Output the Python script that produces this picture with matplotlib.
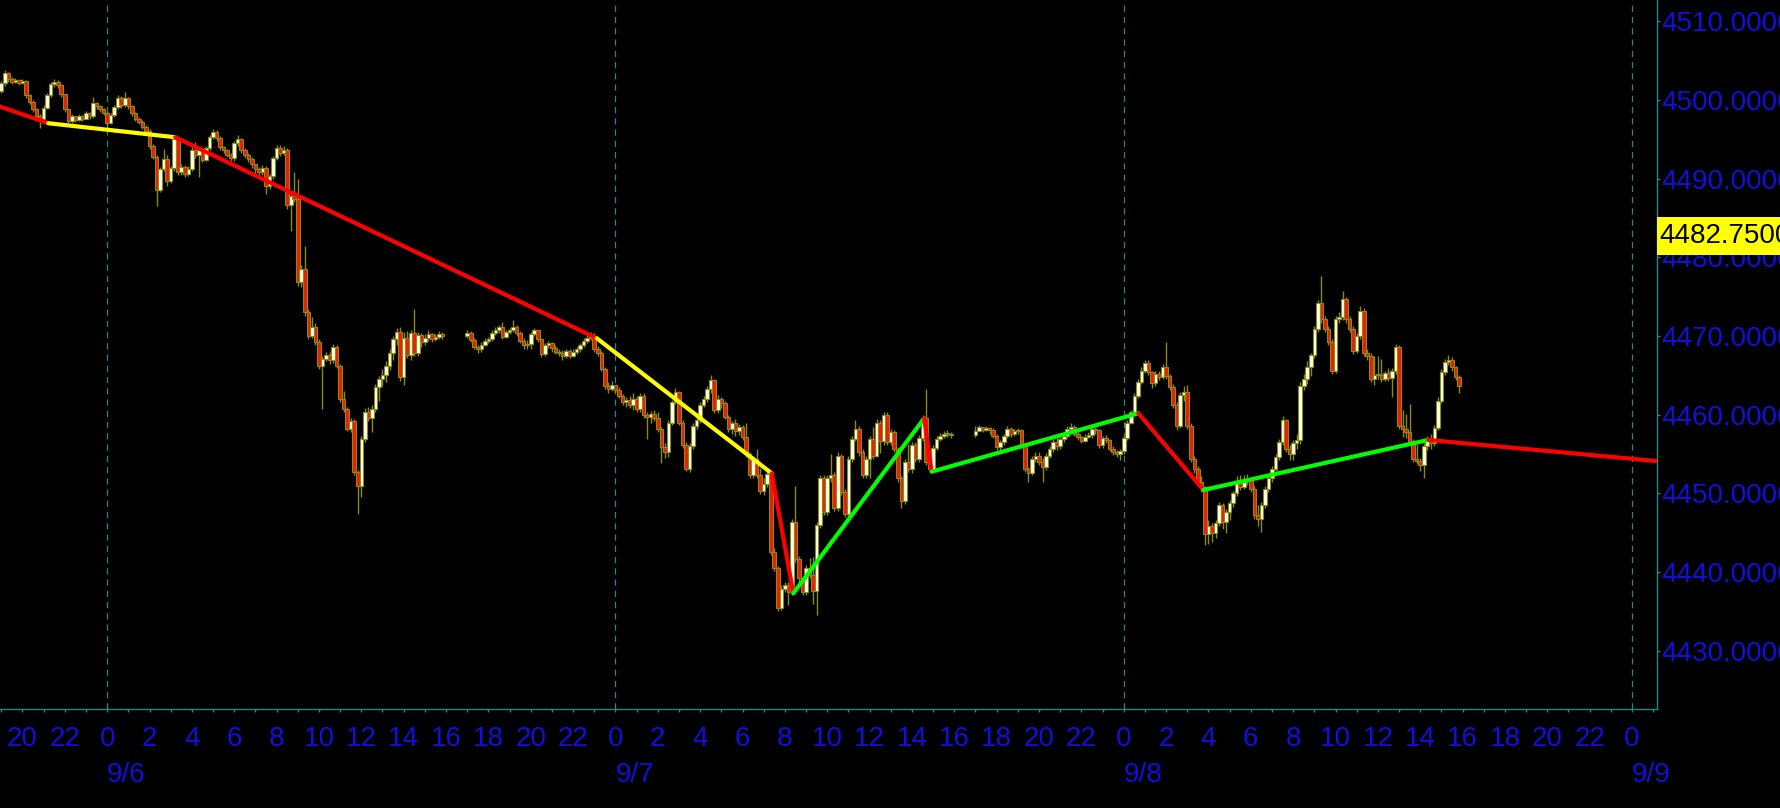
import matplotlib

matplotlib.use("Agg")

import matplotlib.pyplot as plt  # noqa: E402
import matplotlib.transforms as mtransforms  # noqa: E402
from matplotlib.patches import Rectangle  # noqa: E402
import numpy as np  # noqa: E402
import pandas as pd  # noqa: E402

# 10-minute bars, 9/5 19:00 -> 9/8 15:50, no trading 16:00-17:00.
# one row per hour, six bars each
FIRST_OPEN = 4501.1

CLOSE = [
    4502.1, 4503.4, 4502.6, 4502.3, 4502.5, 4502.2,  # 9/5 19
    4502.4, 4500.6, 4499.8, 4498.8, 4498.0, 4497.6,
    4499.0, 4500.6, 4502.0, 4502.3, 4501.9, 4500.7,
    4498.8, 4497.3, 4497.9, 4497.5, 4497.9, 4497.6,
    4498.3, 4497.9, 4499.6, 4499.2, 4498.9, 4498.4,
    4497.1, 4498.1, 4499.1, 4500.2, 4499.3, 4500.3,  # 9/6 0
    4499.2, 4498.3, 4497.6, 4497.2, 4496.6, 4496.0,
    4494.1, 4492.8, 4488.6, 4491.2, 4492.5, 4489.7,
    4491.3, 4495.0, 4490.8, 4491.5, 4490.6, 4491.2,
    4493.7, 4493.0, 4493.6, 4492.4, 4493.9, 4495.3,
    4495.9, 4495.2, 4494.0, 4493.6, 4493.0, 4492.6,
    4494.5, 4495.0, 4493.6, 4493.0, 4492.5, 4491.8,
    4491.2, 4490.8, 4491.3, 4489.0, 4490.3, 4492.6,
    4493.9, 4493.3, 4493.6, 4486.6, 4487.8, 4487.4,
    4476.8, 4478.5, 4473.0, 4470.0, 4471.2, 4469.2,
    4466.2, 4467.1, 4467.6, 4466.9, 4468.6, 4466.2,
    4462.0, 4460.7, 4458.2, 4459.2, 4452.7, 4451.0,
    4456.9, 4460.3, 4459.6, 4460.7, 4463.5, 4464.5,
    4465.0, 4466.2, 4467.9, 4469.6, 4470.5, 4464.8,
    4469.8, 4467.6, 4470.4, 4467.9, 4470.1, 4469.3,
    4469.8, 4470.2, 4469.6, 4469.9, 4470.3, 4470.0,
    4470.4, 4469.5, 4468.6, 4468.3, 4468.9, 4469.4,  # 9/6 17
    4469.6, 4470.4, 4470.8, 4471.1, 4469.9, 4470.5,
    4470.8, 4471.2, 4470.4, 4469.4, 4468.8, 4469.0,
    4470.2, 4470.7, 4469.6, 4467.7, 4468.8, 4469.1,
    4468.5, 4468.0, 4467.8, 4467.4, 4468.1, 4467.5,
    4468.0, 4468.3, 4468.8, 4469.4, 4469.8, 4470.0,
    4468.3, 4467.9, 4465.8, 4463.7, 4463.3, 4463.8,
    4463.2, 4462.4, 4461.6, 4461.9, 4461.2, 4462.0,  # 9/7 0
    4460.7, 4462.4, 4460.0, 4459.7, 4460.1, 4459.6,
    4458.2, 4455.9, 4455.2, 4459.0, 4461.6, 4462.9,
    4459.0, 4456.1, 4453.1, 4456.0, 4458.6, 4459.3,
    4461.2, 4462.0, 4463.3, 4464.4, 4460.6, 4462.0,
    4461.5, 4459.7, 4458.2, 4458.9, 4457.9, 4458.5,
    4457.2, 4455.0, 4452.3, 4454.4, 4452.3, 4450.3,
    4451.2, 4452.5, 4442.6, 4440.5, 4435.4, 4437.9,
    4438.3, 4437.5, 4446.4, 4441.7, 4439.2, 4437.5,
    4440.5, 4439.6, 4437.6, 4446.0, 4451.9, 4447.6,
    4451.9, 4452.4, 4448.1, 4454.8, 4450.2, 4447.4,
    4454.4, 4456.9, 4458.2, 4455.2, 4452.3, 4454.4,
    4456.9, 4454.8, 4459.0, 4456.6, 4459.9, 4456.5,
    4457.8, 4455.7, 4451.9, 4449.0, 4454.0, 4453.1,
    4456.1, 4454.4, 4457.0, 4459.6, 4454.0, 4453.1,
    4455.8, 4456.9, 4457.3, 4457.5, 4457.6, 4457.4,
    4457.9, 4458.4, 4458.1, 4458.3, 4458.0, 4457.3,  # 9/7 17
    4455.9, 4456.5, 4457.3, 4458.2, 4457.6, 4457.9,
    4458.0, 4456.1, 4453.1, 4452.6, 4454.4, 4454.8,
    4454.0, 4453.3, 4454.8, 4455.7, 4456.5, 4456.0,
    4456.9, 4457.3, 4458.2, 4458.5, 4457.6, 4457.2,
    4456.7, 4457.2, 4457.4, 4458.2, 4458.0, 4456.1,
    4457.0, 4456.8, 4455.7, 4455.3, 4455.0, 4455.4,
    4457.0, 4459.0, 4460.3, 4462.4, 4464.1, 4465.6,  # 9/8 0
    4466.6, 4465.4, 4464.0, 4465.2, 4464.8, 4466.0,
    4464.9, 4463.5, 4461.2, 4458.6, 4462.5, 4462.9,
    4458.6, 4454.4, 4453.1, 4451.5, 4450.8, 4444.9,
    4445.8, 4445.0, 4446.3, 4448.5, 4446.4, 4447.6,
    4448.8, 4450.0, 4451.3, 4450.8, 4451.6, 4451.8,
    4450.6, 4447.2, 4446.8, 4448.5, 4450.6, 4451.9,
    4453.1, 4454.6, 4456.5, 4459.3, 4455.6, 4455.0,
    4456.4, 4456.8, 4463.7, 4464.6, 4466.0, 4467.6,
    4470.9, 4474.2, 4472.1, 4470.9, 4469.2, 4465.6,
    4472.1, 4472.4, 4474.7, 4472.1, 4470.9, 4468.1,
    4470.0, 4473.2, 4467.9, 4467.4, 4464.5, 4465.1,
    4465.0, 4464.6, 4465.3, 4464.7, 4465.5, 4468.6,
    4458.6, 4458.2, 4457.8, 4456.5, 4454.4, 4454.1,
    4453.6, 4456.0, 4456.9, 4456.4, 4458.3, 4461.8,
    4465.4, 4466.7, 4467.0, 4466.0, 4464.8, 4463.7,
]

HIGH = [
    4502.4, 4503.8, 4503.6, 4502.9, 4502.8, 4502.6,
    4502.7, 4502.5, 4500.8, 4500.0, 4499.0, 4498.2,
    4499.3, 4500.9, 4502.3, 4502.6, 4502.5, 4502.0,
    4500.8, 4498.9, 4498.2, 4498.0, 4498.2, 4498.1,
    4498.6, 4498.5, 4500.4, 4499.8, 4499.4, 4499.0,
    4498.6, 4498.4, 4499.4, 4500.6, 4500.5, 4501.0,
    4500.4, 4499.4, 4498.5, 4497.8, 4497.4, 4496.8,
    4496.3, 4494.4, 4493.0, 4491.5, 4493.8, 4493.0,
    4491.6, 4495.4, 4495.2, 4491.9, 4491.7, 4491.6,
    4494.0, 4494.7, 4494.0, 4494.0, 4494.2, 4495.6,
    4496.3, 4496.2, 4495.4, 4494.2, 4493.8, 4493.3,
    4494.8, 4495.5, 4495.2, 4493.9, 4493.3, 4492.8,
    4491.9, 4491.5, 4491.7, 4491.6, 4490.6, 4492.9,
    4494.3, 4494.3, 4494.1, 4493.9, 4488.2, 4490.8,
    4489.9, 4479.0, 4481.4, 4473.4, 4472.4, 4471.6,
    4469.6, 4467.5, 4468.0, 4468.0, 4469.0, 4468.9,
    4466.5, 4463.0, 4461.0, 4459.6, 4459.5, 4453.0,
    4457.3, 4460.8, 4461.0, 4461.2, 4463.9, 4464.9,
    4465.8, 4466.8, 4468.4, 4470.0, 4471.0, 4471.1,
    4470.5, 4470.6, 4470.8, 4473.4, 4470.5, 4470.4,
    4470.3, 4470.7, 4470.4, 4470.2, 4470.6, 4470.5,
    4470.7, 4470.6, 4469.7, 4468.8, 4469.2, 4469.7,
    4469.9, 4470.7, 4471.2, 4471.4, 4471.8, 4470.8,
    4471.0, 4472.0, 4471.4, 4470.6, 4469.7, 4469.5,
    4470.5, 4471.0, 4470.8, 4469.8, 4469.1, 4469.4,
    4469.3, 4468.8, 4468.3, 4468.2, 4468.4, 4468.3,
    4468.3, 4468.6, 4469.1, 4469.8, 4470.3, 4470.5,
    4470.4, 4468.7, 4468.1, 4466.0, 4464.2, 4464.3,
    4463.6, 4463.5, 4462.6, 4462.3, 4462.4, 4462.7,
    4462.4, 4462.8, 4462.7, 4460.3, 4460.5, 4460.6,
    4460.4, 4458.5, 4456.4, 4459.3, 4461.9, 4463.4,
    4463.0, 4459.3, 4456.5, 4456.4, 4458.9, 4459.7,
    4461.6, 4462.4, 4463.7, 4465.0, 4464.6, 4462.5,
    4462.3, 4461.8, 4460.0, 4459.2, 4459.4, 4458.8,
    4458.7, 4459.0, 4455.3, 4454.8, 4455.6, 4453.2,
    4452.0, 4453.0, 4452.8, 4443.0, 4440.8, 4438.3,
    4438.7, 4438.8, 4446.8, 4451.0, 4442.0, 4439.5,
    4440.9, 4441.8, 4441.9, 4446.4, 4452.4, 4452.3,
    4452.3, 4455.0, 4452.7, 4455.3, 4455.0, 4450.6,
    4454.8, 4457.3, 4459.3, 4458.6, 4455.6, 4454.8,
    4457.3, 4458.5, 4459.4, 4459.3, 4460.3, 4460.4,
    4458.2, 4458.1, 4455.9, 4452.2, 4454.4, 4456.3,
    4456.5, 4456.5, 4457.4, 4460.0, 4463.3, 4454.6,
    4456.2, 4457.3, 4457.7, 4457.9, 4458.0, 4457.8,
    4458.6, 4458.7, 4458.5, 4458.6, 4458.4, 4458.3,
    4457.6, 4456.8, 4457.6, 4458.6, 4458.5, 4458.2,
    4458.3, 4458.2, 4456.4, 4453.4, 4454.8, 4455.2,
    4455.2, 4454.5, 4455.1, 4456.0, 4456.9, 4457.2,
    4457.2, 4457.7, 4458.6, 4458.9, 4458.7, 4457.9,
    4457.3, 4457.6, 4457.8, 4458.6, 4458.4, 4458.2,
    4457.3, 4457.4, 4456.9, 4456.0, 4455.5, 4455.7,
    4457.3, 4459.3, 4460.6, 4462.7, 4464.5, 4466.0,
    4466.9, 4466.9, 4465.6, 4465.5, 4465.5, 4466.4,
    4469.2, 4465.2, 4463.9, 4461.6, 4462.9, 4463.6,
    4463.8, 4459.0, 4454.8, 4453.5, 4452.2, 4451.0,
    4446.6, 4446.2, 4446.6, 4448.9, 4448.8, 4448.0,
    4449.2, 4450.3, 4452.2, 4452.3, 4452.4, 4452.5,
    4452.0, 4450.9, 4448.5, 4448.9, 4451.0, 4452.3,
    4453.5, 4455.0, 4456.9, 4459.8, 4459.4, 4456.2,
    4456.8, 4457.6, 4464.1, 4465.2, 4466.8, 4467.9,
    4471.3, 4474.6, 4477.6, 4472.5, 4471.3, 4469.6,
    4472.5, 4473.0, 4475.7, 4475.0, 4472.5, 4471.3,
    4470.4, 4473.8, 4473.5, 4468.4, 4467.8, 4467.4,
    4467.4, 4467.1, 4465.6, 4465.9, 4465.9, 4469.0,
    4468.9, 4460.6, 4460.1, 4461.4, 4456.9, 4456.3,
    4454.5, 4456.4, 4457.3, 4457.6, 4458.7, 4462.2,
    4465.8, 4467.1, 4467.6, 4467.3, 4466.2, 4465.0,
]

LOW = [
    4500.9, 4501.8, 4502.3, 4502.0, 4502.1, 4501.9,
    4502.0, 4500.3, 4499.5, 4498.5, 4497.6, 4496.4,
    4497.3, 4498.8, 4500.4, 4501.7, 4501.5, 4500.4,
    4498.5, 4497.0, 4497.1, 4497.2, 4497.3, 4497.3,
    4497.6, 4497.6, 4497.7, 4498.9, 4498.5, 4498.1,
    4496.4, 4496.9, 4497.8, 4498.9, 4499.0, 4499.1,
    4498.9, 4498.0, 4497.3, 4496.9, 4496.3, 4495.7,
    4493.8, 4492.5, 4486.5, 4488.3, 4491.0, 4489.0,
    4489.4, 4491.0, 4490.5, 4490.4, 4490.2, 4490.3,
    4491.0, 4492.6, 4490.2, 4492.1, 4492.2, 4493.6,
    4495.0, 4494.8, 4493.7, 4493.2, 4492.7, 4492.3,
    4492.2, 4494.1, 4493.3, 4492.6, 4492.1, 4491.4,
    4490.6, 4490.3, 4490.5, 4488.0, 4488.7, 4490.0,
    4492.4, 4492.9, 4493.0, 4486.1, 4483.3, 4487.0,
    4476.4, 4476.2, 4472.5, 4469.6, 4469.7, 4468.8,
    4465.8, 4460.7, 4466.8, 4466.5, 4466.6, 4465.9,
    4461.6, 4460.3, 4457.9, 4457.8, 4452.3, 4447.4,
    4449.5, 4456.5, 4459.2, 4457.8, 4460.3, 4461.8,
    4463.6, 4464.2, 4465.7, 4467.0, 4468.8, 4464.3,
    4463.8, 4467.2, 4467.0, 4467.5, 4467.4, 4468.6,
    4468.9, 4469.4, 4469.2, 4469.4, 4469.6, 4469.6,
    4469.8, 4469.2, 4468.3, 4467.9, 4468.0, 4468.7,
    4469.1, 4469.4, 4470.1, 4470.4, 4469.6, 4469.7,
    4470.2, 4470.5, 4470.0, 4469.1, 4468.4, 4468.4,
    4468.4, 4470.0, 4469.3, 4467.3, 4467.5, 4468.5,
    4468.0, 4467.7, 4467.4, 4467.0, 4467.2, 4467.2,
    4467.3, 4467.7, 4468.0, 4468.6, 4469.1, 4469.5,
    4468.0, 4467.5, 4465.5, 4463.3, 4462.8, 4463.0,
    4462.8, 4462.1, 4461.2, 4461.0, 4460.8, 4460.6,
    4460.4, 4460.3, 4459.6, 4456.9, 4459.0, 4459.2,
    4457.8, 4453.8, 4454.5, 4454.6, 4458.7, 4461.4,
    4458.7, 4455.8, 4452.9, 4452.7, 4455.7, 4458.2,
    4459.0, 4461.0, 4461.6, 4462.8, 4460.2, 4460.2,
    4460.9, 4459.4, 4457.8, 4457.5, 4457.3, 4457.4,
    4456.8, 4454.6, 4451.9, 4452.0, 4451.9, 4449.9,
    4449.8, 4450.8, 4442.2, 4440.1, 4435.0, 4435.2,
    4437.5, 4435.8, 4437.1, 4441.3, 4438.8, 4437.1,
    4437.1, 4439.2, 4436.0, 4434.5, 4445.6, 4447.2,
    4447.3, 4451.5, 4447.7, 4447.8, 4449.8, 4447.0,
    4446.9, 4454.0, 4456.6, 4454.8, 4451.9, 4452.0,
    4452.0, 4454.4, 4454.6, 4455.1, 4456.2, 4456.1,
    4456.2, 4455.3, 4451.5, 4448.1, 4448.7, 4452.7,
    4452.6, 4454.0, 4454.0, 4456.6, 4453.6, 4452.7,
    4453.0, 4455.5, 4456.6, 4457.1, 4457.2, 4457.1,
    4457.2, 4457.9, 4457.8, 4457.9, 4457.6, 4457.0,
    4455.5, 4455.4, 4456.2, 4457.0, 4457.2, 4457.3,
    4457.5, 4455.8, 4452.7, 4451.5, 4452.3, 4454.0,
    4453.6, 4451.5, 4453.0, 4454.5, 4455.3, 4455.5,
    4455.6, 4456.5, 4457.1, 4457.9, 4457.3, 4456.8,
    4456.4, 4456.5, 4457.0, 4457.1, 4457.6, 4455.8,
    4455.8, 4456.4, 4455.4, 4454.9, 4454.6, 4454.3,
    4455.0, 4456.8, 4458.8, 4460.1, 4462.1, 4463.9,
    4465.3, 4465.0, 4463.4, 4463.7, 4464.4, 4464.5,
    4464.5, 4463.1, 4460.8, 4458.0, 4458.3, 4461.8,
    4458.2, 4454.0, 4452.6, 4451.1, 4450.2, 4443.4,
    4443.6, 4443.8, 4444.3, 4445.8, 4445.5, 4445.0,
    4446.6, 4448.3, 4449.7, 4450.4, 4450.5, 4451.1,
    4450.2, 4446.8, 4445.8, 4445.1, 4448.1, 4450.2,
    4451.5, 4452.8, 4454.2, 4456.1, 4455.2, 4454.3,
    4454.2, 4455.7, 4456.3, 4463.2, 4463.9, 4464.9,
    4467.2, 4470.5, 4471.7, 4470.5, 4468.8, 4465.2,
    4465.3, 4471.6, 4472.0, 4471.7, 4470.5, 4467.7,
    4467.8, 4469.6, 4467.5, 4466.9, 4464.1, 4463.8,
    4464.6, 4464.2, 4464.3, 4464.3, 4462.3, 4465.2,
    4458.2, 4457.2, 4457.1, 4456.1, 4454.0, 4453.7,
    4452.8, 4451.9, 4455.5, 4455.7, 4456.0, 4458.0,
    4461.5, 4465.0, 4466.3, 4465.6, 4464.4, 4462.8,
]

# zigzag overlay: pivot times (hours from 9/6 00:00), prices, segment colours
ZZ_T = [-5.06, -2.78, 3.21, 23.12, 31.38, 32.40, 38.58, 38.93, 48.69, 51.76, 62.38, 73.18]
ZZ_V = [4499.15, 4497.04, 4495.26, 4469.71, 4452.55, 4437.30, 4459.54,
        4452.76, 4460.18, 4450.43, 4456.79, 4454.10]
ZZ_COLORS = ["#ff0000", "#ffff00", "#ff0000", "#ffff00", "#ff0000", "#00ff00",
             "#ff0000", "#00ff00", "#ff0000", "#00ff00", "#ff0000"]

LAST_PRICE = 4482.75
PRICE_TICKS = [4430, 4440, 4450, 4460, 4470, 4480, 4490, 4500, 4510]
DAY_LABELS = ["9/6", "9/7", "9/8", "9/9"]

TEAL = "#2f8585"
BLUE = "#1010dc"
OLIVE = "#8a8a1a"
UP = "#ffffe6"
DOWN = "#f01c00"
FS = 20

plt.rcParams["font.family"] = ["Liberation Sans", "DejaVu Sans"]

times = pd.date_range("2023-09-05 19:00", "2023-09-08 15:50", freq="10min")
times = times[times.hour != 16]
x = np.asarray((times - pd.Timestamp("2023-09-06")) / pd.Timedelta(hours=1))

close = np.array(CLOSE)
opn = np.concatenate([[FIRST_OPEN], close[:-1]])
high = np.maximum.reduce([np.array(HIGH), opn, close])
low = np.minimum.reduce([np.array(LOW), opn, close])
assert len(x) == len(close) == len(high) == len(low)

fig = plt.figure(figsize=(17.8, 8.08), dpi=100, facecolor="black")
ax = fig.add_axes([0, 99 / 808, 1657 / 1780, 709 / 808], facecolor="black")

ax.set_xlim(-5.06, 73.18)
ax.set_ylim(4422.6, 4512.7)

# day separators
for d in range(4):
    ax.axvline(24 * d, color=TEAL, lw=0.9, dashes=(5, 4), zorder=1)

# candles
ax.vlines(x, low, high, color=OLIVE, lw=1.0, zorder=2)
up = close >= opn
bottom = np.minimum(opn, close)
height = np.maximum(np.abs(close - opn), 0.15)
ax.bar(x, height, bottom=bottom, width=0.17, color=np.where(up, UP, DOWN),
       edgecolor=OLIVE, linewidth=0.8, zorder=3)

# zigzag
for i, col in enumerate(ZZ_COLORS):
    ax.plot(ZZ_T[i:i + 2], ZZ_V[i:i + 2], color=col, lw=3.0,
            solid_capstyle="round", zorder=5)

# axes styling
for side in ("top", "left"):
    ax.spines[side].set_visible(False)
for side in ("right", "bottom"):
    ax.spines[side].set_color(TEAL)
    ax.spines[side].set_linewidth(1.0)

ax.yaxis.tick_right()
ax.set_yticks(PRICE_TICKS)
ax.set_yticklabels([f"{v:.4f}" for v in PRICE_TICKS])
ax.tick_params(axis="y", colors=TEAL, labelcolor=BLUE, labelsize=FS,
               length=2.5, width=1, pad=0.5, direction="out")

major = list(range(-4, 74, 2))
ax.set_xticks(major)
ax.set_xticklabels([str(h % 24) for h in major])
ax.set_xticks(list(range(-5, 74)), minor=True)
ax.tick_params(axis="x", which="both", colors=TEAL, labelcolor=BLUE,
               labelsize=FS, length=2.5, width=1, pad=10, direction="out")

trans = mtransforms.blended_transform_factory(ax.transData, ax.transAxes)
for d, lab in enumerate(DAY_LABELS):
    ax.text(24 * d, -66 / 709, lab, transform=trans, ha="left", va="center",
            color=BLUE, fontsize=FS, clip_on=False)

# last-price marker on the price scale
ytr = mtransforms.blended_transform_factory(ax.transAxes, ax.transData)
ax.add_patch(Rectangle((1.0, LAST_PRICE - 2.42), 0.2, 4.84, transform=ytr,
                       facecolor="#ffff00", edgecolor="none", clip_on=False,
                       zorder=10))
ax.text(1.0 + 2 / 1657, LAST_PRICE, f"{LAST_PRICE:.4f}", transform=ytr,
        ha="left", va="center", color="black", fontsize=FS, clip_on=False,
        zorder=11)

fig.savefig("out.png", dpi=100, facecolor="black")
